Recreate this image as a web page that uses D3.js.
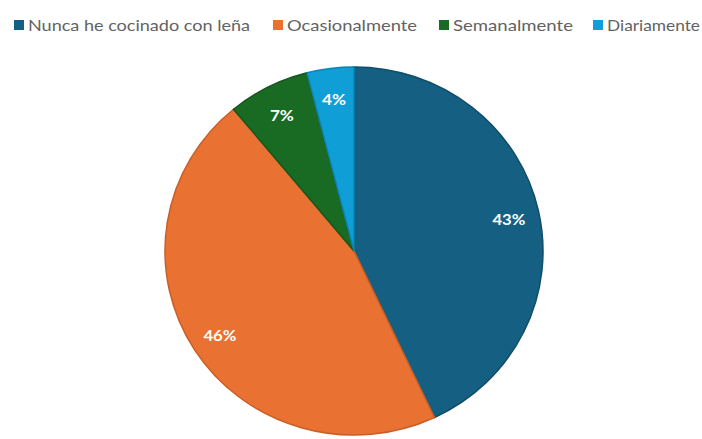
<!DOCTYPE html>
<meta charset="utf-8">
<title>Cocinado con leña</title>
<script src="https://d3js.org/d3.v7.min.js"></script>
<style>
  body { margin: 0; background: #fff; }
</style>
<body>
<div id="chart"></div>
<script>
// data
var categories = ["Nunca he cocinado con leña", "Ocasionalmente", "Semanalmente", "Diariamente"];
var values = [43, 46, 7, 4];
var colors = ["#156082", "#E97132", "#196B24", "#0F9ED5"];
var borders = ["#104d69", "#c95e26", "#14561d", "#0c84b3"];

var width = 702, height = 439;
var cx = 354, cy = 251, r = 189, squash = 184 / 189;

var svg = d3.select("#chart")
  .append("svg")
    .attr("width", width)
    .attr("height", height);

// pie, clockwise from 12 o'clock, slices in data order
var pie = d3.pie().sort(null).value(function(d) { return d; });
var arcs = pie(values);
var arc = d3.arc().innerRadius(0).outerRadius(r);
var labelArc = d3.arc().innerRadius(r * 0.84).outerRadius(r * 0.84);

var g = svg.append("g")
  .attr("transform", "translate(" + cx + "," + cy + ") scale(1," + squash + ")");

g.selectAll("path")
  .data(arcs)
  .enter()
  .append("path")
    .attr("d", arc)
    .attr("fill", function(d, i) { return colors[i]; })
    .attr("stroke", function(d, i) { return borders[i]; })
    .attr("stroke-width", 1.5);

svg.selectAll("text.lbl")
  .data(arcs)
  .enter()
  .append("text")
    .attr("class", "lbl")
    .attr("x", function(d) { return cx + labelArc.centroid(d)[0]; })
    .attr("y", function(d) { return cy + 2 + labelArc.centroid(d)[1] * squash; })
    .attr("text-anchor", "middle")
    .attr("dominant-baseline", "central")
    .attr("textLength", function(d) { return (d.data + "%").length > 2 ? 33 : 24; })
    .attr("lengthAdjust", "spacingAndGlyphs")
    .style("font-family", "Lato, 'Open Sans', sans-serif")
    .style("font-weight", "bold")
    .style("font-size", "14.5px")
    .style("fill", "#fff")
    .text(function(d) { return d.data + "%"; });

// legend
var legendX = [14, 273, 439, 593];
var legendW = [222, 130, 120, 93];
var legend = svg.selectAll("g.leg")
  .data(categories)
  .enter()
  .append("g")
    .attr("class", "leg")
    .attr("transform", function(d, i) { return "translate(" + legendX[i] + ",25)"; });

legend.append("rect")
  .attr("x", 0)
  .attr("y", -5)
  .attr("width", 10)
  .attr("height", 10)
  .attr("fill", function(d, i) { return colors[i]; });

legend.append("text")
  .attr("x", 14)
  .attr("y", 0)
  .attr("dominant-baseline", "central")
  .attr("textLength", function(d, i) { return legendW[i]; })
  .attr("lengthAdjust", "spacingAndGlyphs")
  .style("font-family", "Lato, 'Open Sans', sans-serif")
  .style("font-size", "15px")
  .style("fill", "#636363")
  .text(function(d) { return d; });
</script>
</body>
